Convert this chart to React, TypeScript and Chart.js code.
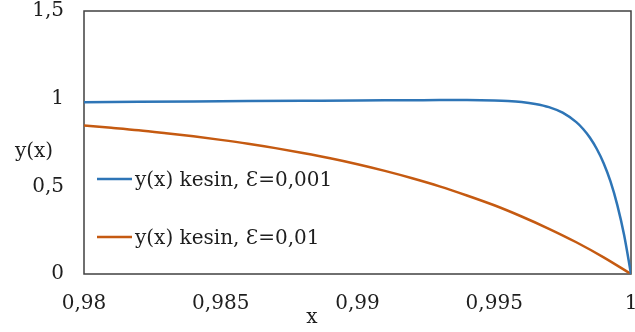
import React, { useEffect, useRef } from 'react';
import { Chart, registerables } from 'chart.js';

Chart.register(...registerables);

// ---- Data ----
const blueX = [0.98, 0.982, 0.984, 0.986, 0.988, 0.99, 0.992, 0.993, 0.994, 0.995, 0.9955, 0.996, 0.9965, 0.997, 0.9975, 0.998, 0.99825, 0.9985, 0.99875, 0.999, 0.99925, 0.9995, 0.99975, 1];
const blueY = [0.98, 0.982, 0.984, 0.986, 0.988, 0.99, 0.991, 0.992, 0.992, 0.99, 0.987, 0.981, 0.97, 0.952, 0.92, 0.866, 0.827, 0.777, 0.713, 0.632, 0.528, 0.393, 0.221, 0];
const orangeX = [0.98, 0.981, 0.982, 0.983, 0.984, 0.985, 0.986, 0.987, 0.988, 0.989, 0.99, 0.991, 0.992, 0.993, 0.994, 0.995, 0.996, 0.997, 0.998, 0.999, 1];
const orangeY = [0.847, 0.834, 0.82, 0.803, 0.785, 0.765, 0.743, 0.718, 0.69, 0.66, 0.626, 0.588, 0.546, 0.5, 0.448, 0.392, 0.328, 0.258, 0.181, 0.095, 0];
const xTickValues = [0.98, 0.985, 0.99, 0.995, 1];
const yTickValues = [0, 0.5, 1, 1.5];
const seriesLabels = ['y(x) kesin, Ɛ=0,001', 'y(x) kesin, Ɛ=0,01'];
const seriesColors = ['#2E75B6', '#C55A11'];
const xTitle = 'x';
const yTitle = 'y(x)';

const FONT = '"DejaVu Serif", serif';
const TEXT = '#1e1e1e';

const fmt = (v: number) => String(+Number(v).toFixed(4)).replace('.', ',');

const decorPlugin = {
  id: 'decor',
  beforeDatasetsDraw(chart: any) {
    const { ctx, chartArea: a } = chart;
    ctx.save();
    ctx.strokeStyle = '#404040';
    ctx.lineWidth = 1.5;
    ctx.strokeRect(a.left, a.top, a.right - a.left, a.bottom - a.top);
    ctx.restore();
  },
  afterDraw(chart: any) {
    const { ctx, chartArea: a } = chart;
    ctx.save();
    ctx.fillStyle = TEXT;
    ctx.font = `20px ${FONT}`;
    ctx.textBaseline = 'alphabetic';
    ctx.textAlign = 'center';
    ctx.fillText(yTitle, 34, 157);
    ctx.fillText(xTitle, 312, 323);
    // legend inside plot area
    const rows = [179, 237];
    chart.data.datasets.forEach((ds: any, i: number) => {
      const y = rows[i];
      ctx.strokeStyle = ds.borderColor;
      ctx.lineWidth = 2.5;
      ctx.beginPath();
      ctx.moveTo(a.left + 13, y);
      ctx.lineTo(a.left + 48, y);
      ctx.stroke();
      ctx.textAlign = 'left';
      ctx.fillStyle = TEXT;
      ctx.fillText(ds.label, a.left + 51, y + 7);
    });
    ctx.restore();
  },
};

export default function App() {
  const ref = useRef<HTMLCanvasElement>(null);
  useEffect(() => {
    if (!ref.current) return;
    const chart = new Chart(ref.current, {
      type: 'line',
      data: {
        datasets: [
          {
            label: seriesLabels[0],
            data: blueX.map((x, i) => ({ x, y: blueY[i] })),
            borderColor: seriesColors[0],
            backgroundColor: seriesColors[0],
            borderWidth: 2.5,
            pointRadius: 0,
            cubicInterpolationMode: 'monotone',
            fill: false,
          },
          {
            label: seriesLabels[1],
            data: orangeX.map((x, i) => ({ x, y: orangeY[i] })),
            borderColor: seriesColors[1],
            backgroundColor: seriesColors[1],
            borderWidth: 2.5,
            pointRadius: 0,
            cubicInterpolationMode: 'monotone',
            fill: false,
          },
        ],
      },
      options: {
        animation: false,
        responsive: false,
        layout: { padding: { left: 0, top: 11, right: 4, bottom: 0 } },
        plugins: { legend: { display: false }, tooltip: { enabled: false } },
        scales: {
          x: {
            type: 'linear',
            min: 0.98,
            max: 1,
            grid: { display: false, drawTicks: false },
            border: { display: false },
            afterBuildTicks: (s: any) => { s.ticks = xTickValues.map((v) => ({ value: v })); },
            afterFit: (s: any) => { s.height = 58; s.paddingLeft = 0; s.paddingRight = 0; },
            ticks: {
              autoSkip: false,
              maxRotation: 0,
              padding: 18,
              color: TEXT,
              font: { family: FONT, size: 20 },
              callback: (v: any) => fmt(v),
            },
          },
          y: {
            type: 'linear',
            min: 0,
            max: 1.5,
            grid: { display: false, drawTicks: false },
            border: { display: false },
            afterBuildTicks: (s: any) => { s.ticks = yTickValues.map((v) => ({ value: v })); },
            afterFit: (s: any) => { s.width = 84; s.paddingTop = 0; s.paddingBottom = 0; },
            ticks: {
              padding: 20,
              color: TEXT,
              font: { family: FONT, size: 20 },
              callback: (v: any) => fmt(v),
            },
          },
        },
      } as any,
      plugins: [decorPlugin],
    });
    return () => chart.destroy();
  }, []);
  return (
    <div style={{ position: 'fixed', left: 0, top: 0, width: 635, height: 332 }}>
      <canvas ref={ref} width={635} height={332} style={{ display: 'block' }} />
    </div>
  );
}
